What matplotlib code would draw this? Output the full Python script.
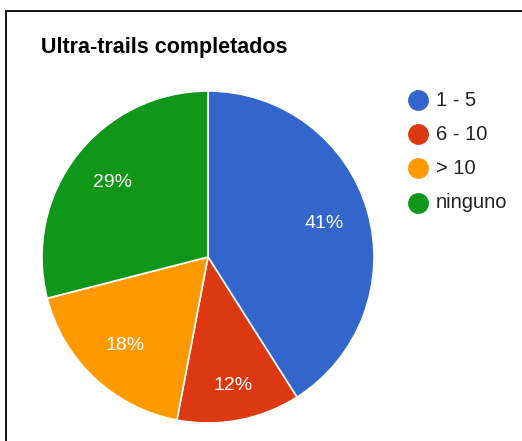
import numpy as np
import matplotlib
matplotlib.use("Agg")
import matplotlib.pyplot as plt
from matplotlib.lines import Line2D

plt.rcParams["font.family"] = ["Liberation Sans", "DejaVu Sans"]

# ---------------------------------------------------------------------------
# Data
# ---------------------------------------------------------------------------
title = "Ultra-trails completados"
categories = ["1 - 5", "6 - 10", "> 10", "ninguno"]
shares = [41, 12, 18, 29]
colors = ["#3366CC", "#DC3912", "#FF9900", "#109618"]

W, H = 522, 441
fig = plt.figure(figsize=(W / 100, H / 100), dpi=100)

# frame lines (top and left only, as in the screenshot)
fig.add_artist(Line2D([6 / W, 1.0], [1 - 11 / H, 1 - 11 / H], color="black", lw=1.3))
fig.add_artist(Line2D([6 / W, 6 / W], [0.0, 1 - 11 / H], color="black", lw=1.3))

fig.text(41 / W, 1 - 47 / H, title, fontsize=15.5, fontweight="bold", va="center", ha="left")

# pie: centre (208, 257) px, radius 166 px
cx, cy, r = 208, 257, 166
ax = fig.add_axes([(cx - r) / W, (H - cy - r) / H, 2 * r / W, 2 * r / H])
wedges, _, autotexts = ax.pie(
    shares, colors=colors, startangle=90, counterclock=False,
    autopct=lambda p: f"{p:.0f}%", pctdistance=0.73,
    wedgeprops=dict(edgecolor="white", linewidth=1.2),
    textprops=dict(color="white", fontsize=14),
)
# the small slice gets its label pushed a bit further out
w = wedges[1]
mid = np.deg2rad((w.theta1 + w.theta2) / 2)
autotexts[1].set_position((0.79 * np.cos(mid), 0.79 * np.sin(mid)))

ax.set_xlim(-1, 1)
ax.set_ylim(-1, 1)
ax.set_aspect("equal")
ax.axis("off")

# legend
leg_y = [100, 134, 168, 203]
for name, col, y in zip(categories, colors, leg_y):
    fig.add_artist(Line2D([418 / W], [1 - y / H], marker="o", markersize=14,
                          markerfacecolor=col, markeredgecolor=col, linestyle="none"))
    fig.text(436 / W, 1 - y / H, name, fontsize=14.5, color="#222222", va="center", ha="left")

fig.savefig("out.png", dpi=100)
